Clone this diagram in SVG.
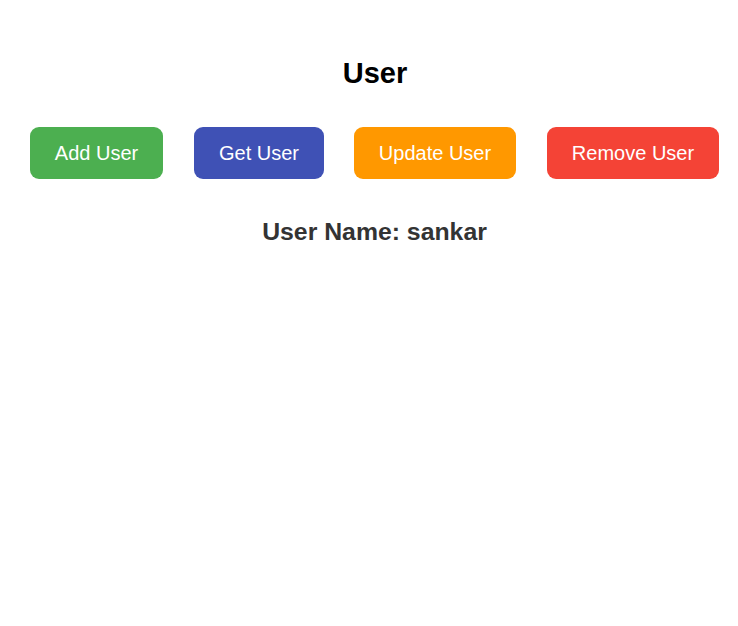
<svg xmlns="http://www.w3.org/2000/svg" width="738" height="626" viewBox="0 0 738 626">
<style>
.btn-text{font-family:"Liberation Sans",Arial,sans-serif;font-size:20px;fill:#ffffff;text-anchor:middle}
.title{font-family:"Liberation Sans",Arial,sans-serif;font-size:29px;font-weight:bold;fill:#000000;text-anchor:middle}
.name{font-family:"Liberation Sans",Arial,sans-serif;font-size:24.8px;font-weight:bold;fill:#333333;text-anchor:middle}
</style>
<rect width="738" height="626" fill="#ffffff"/>
<g id="title"><text class="title" x="375" y="83">User</text></g>
<g id="add-user"><rect x="30" y="127" width="133" height="52" rx="9" fill="#4CAF50"/><text class="btn-text" x="96.5" y="160">Add User</text></g>
<g id="get-user"><rect x="194" y="127" width="130" height="52" rx="9" fill="#3F51B5"/><text class="btn-text" x="259" y="160">Get User</text></g>
<g id="update-user"><rect x="354" y="127" width="162" height="52" rx="9" fill="#FF9800"/><text class="btn-text" x="435" y="160">Update User</text></g>
<g id="remove-user"><rect x="547" y="127" width="172" height="52" rx="9" fill="#F44336"/><text class="btn-text" x="633" y="160">Remove User</text></g>
<g id="user-name"><text class="name" x="374.5" y="240">User Name: sankar</text></g>
<g id="connectors"/>
</svg>
